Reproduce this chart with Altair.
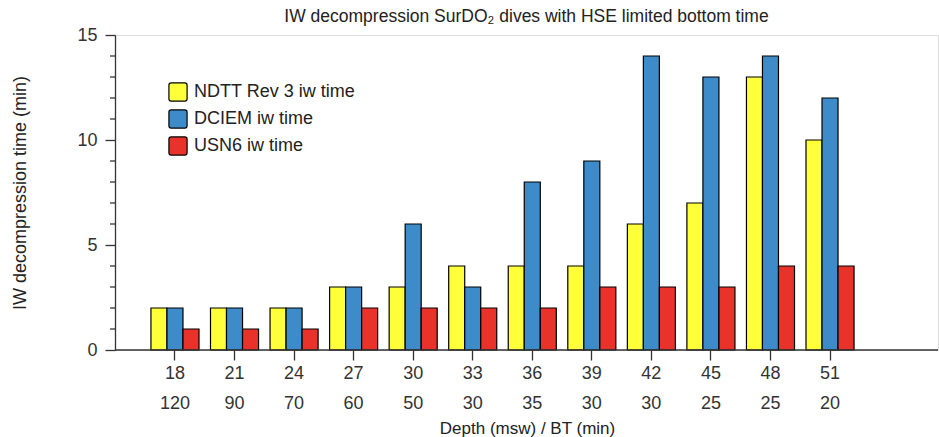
import altair as alt
import pandas as pd

depths = ["18", "21", "24", "27", "30", "33", "36", "39", "42", "45", "48", "51"]
bottom_times = ["120", "90", "70", "60", "50", "30", "35", "30", "30", "25", "25", "20"]
series = ["NDTT Rev 3 iw time", "DCIEM iw time", "USN6 iw time"]
ndtt = [2, 2, 2, 3, 3, 4, 4, 4, 6, 7, 13, 10]
dciem = [2, 2, 2, 3, 6, 3, 8, 9, 14, 13, 14, 12]
usn6 = [1, 1, 1, 2, 2, 2, 2, 3, 3, 3, 4, 4]
colors = ["#FFFF3A", "#3D8BC8", "#E8322A"]
major_ticks = [0, 5, 10, 15]
minor_ticks = [1, 2, 3, 4, 6, 7, 8, 9, 11, 12, 13, 14]

cats = [f"{d}\n{b}" for d, b in zip(depths, bottom_times)]
rows = []
for s, vals in zip(series, [ndtt, dciem, usn6]):
    for c, v in zip(cats, vals):
        rows.append({"cat": c, "series": s, "value": v})
df = pd.DataFrame(rows)

W, H = 823, 315
FONT = "Liberation Sans"
ROUNDED = ("M -0.75 -1 L 0.75 -1 Q 1 -1 1 -0.75 L 1 0.75 Q 1 1 0.75 1 L -0.75 1 "
           "Q -1 1 -1 0.75 L -1 -0.75 Q -1 -1 -0.75 -1 Z")

yscale = alt.Scale(domain=[0, 15], nice=False)

bars = alt.Chart(df).mark_bar(stroke="black", strokeWidth=1.2, cornerRadius=0).encode(
    x=alt.X("cat:N", sort=cats,
            scale=alt.Scale(range=[30.2, 744.8], paddingInner=0.193, paddingOuter=0.0965),
            axis=alt.Axis(title="Depth (msw) / BT (min)", labelAngle=0, domain=False,
                          labelExpr="split(datum.label, '\\n')", labelLineHeight=30,
                          labelFontSize=18, labelColor="#333333", labelPadding=4,
                          tickSize=10, tickColor="#333333", tickWidth=1.3,
                          titleFontSize=17, titleColor="#222222", titleFontWeight="normal",
                          titleX=412, titleAlign="center", titleAnchor="start",
                          titlePadding=8, labelFont=FONT, titleFont=FONT)),
    xOffset=alt.XOffset("series:N", sort=series, scale=alt.Scale(paddingInner=0, paddingOuter=0)),
    y=alt.Y("value:Q", scale=yscale,
            axis=alt.Axis(title="IW decompression time (min)", values=major_ticks,
                          labelOverlap=False, labelFlush=False,
                          tickSize=10, tickColor="#333333", tickWidth=1.3,
                          domainColor="#333333", domainWidth=1.3,
                          grid=False, labelFontSize=18, labelColor="#333333", labelPadding=8,
                          titleFontSize=18, titleColor="#222222", titleFontWeight="normal",
                          titlePadding=47, labelFont=FONT, titleFont=FONT)),
    color=alt.Color("series:N", sort=series,
                    scale=alt.Scale(domain=series, range=colors),
                    legend=alt.Legend(title=None, orient="none", legendX=53, legendY=47,
                                      symbolType=ROUNDED, symbolSize=330, symbolStrokeColor="black",
                                      symbolStrokeWidth=1.2, labelFontSize=18, labelColor="#222222",
                                      labelFont=FONT, rowPadding=3, labelOffset=6, labelLimit=400,
                                      symbolOpacity=1)),
)

minor = alt.Chart(pd.DataFrame({"t": minor_ticks})).mark_rule(
    color="#333333", strokeWidth=1.3
).encode(y=alt.Y("t:Q", scale=yscale), x=alt.value(-5), x2=alt.value(0))

base = alt.Chart(pd.DataFrame({"y": [0]})).mark_rule(color="#333333", strokeWidth=1.3).encode(
    y=alt.Y("y:Q", scale=yscale), x=alt.value(0), x2=alt.value(W)
)

chart = alt.layer(bars, minor, base).properties(
    width=W, height=H,
    title=alt.TitleParams("IW decompression SurDO₂ dives with HSE limited bottom time",
                          fontSize=17.5, fontWeight="normal", font=FONT, color="#222222",
                          anchor="middle", offset=1),
    autosize=alt.AutoSizeParams(type="none"),
    padding={"left": 115, "top": 35, "right": 1, "bottom": 87},
).configure_view(stroke=None).configure(background="white")

chart.save("out.html", embed_options={"renderer": "svg", "actions": False})
